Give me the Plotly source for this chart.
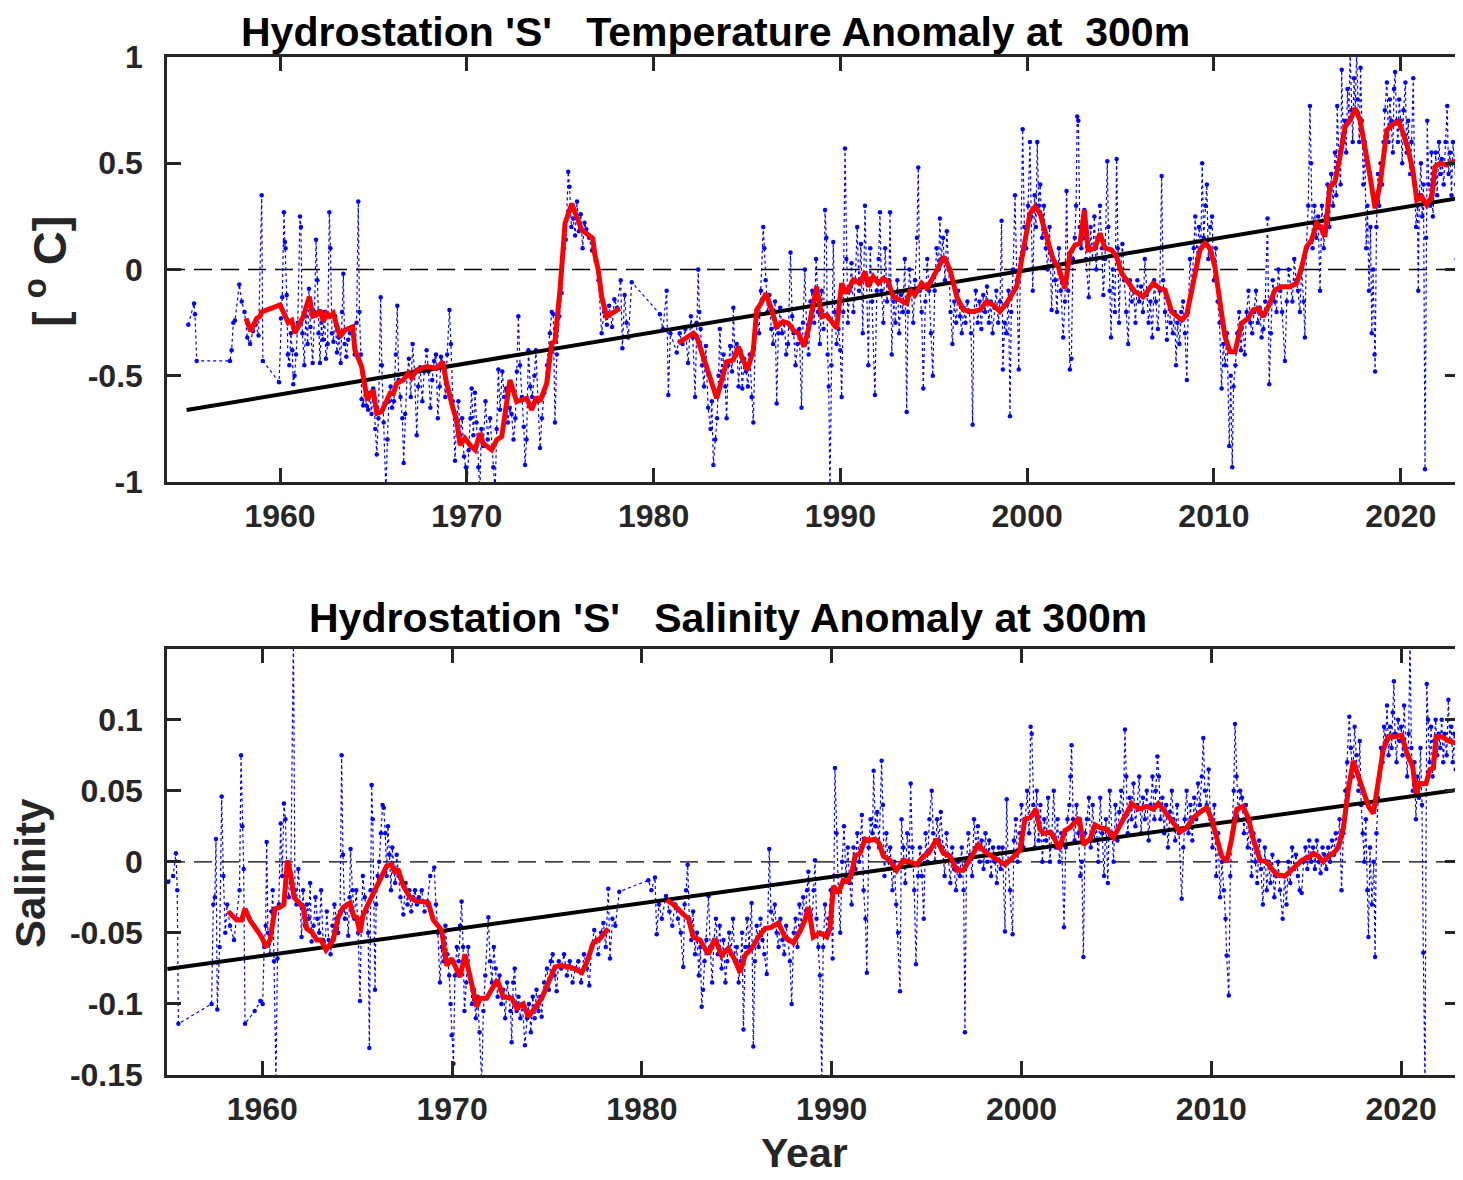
import plotly.graph_objects as go

# ---------------- Temperature anomaly at 300 m (deg C) ----------------
# individual casts (year, anomaly)
temp_obs = [
    (1955.09, -0.26), (1955.40, -0.16), (1955.45, -0.21), (1955.54, -0.43), (1957.32, -0.43),
    (1957.41, -0.38), (1957.50, -0.25), (1957.59, -0.24), (1957.82, -0.07), (1957.95, -0.15),
    (1958.10, -0.20), (1958.25, -0.32), (1958.40, -0.35), (1958.55, -0.29), (1958.70, -0.26),
    (1958.85, -0.31), (1959.02, 0.35), (1959.08, -0.43), (1959.95, -0.53), (1960.05, -0.23),
    (1960.12, -0.13), (1960.21, 0.27), (1960.26, 0.13), (1960.30, 0.10), (1960.36, -0.12),
    (1960.42, -0.40), (1960.50, -0.45), (1960.58, -0.30), (1960.66, -0.38), (1960.71, -0.54),
    (1960.78, -0.50), (1960.86, -0.40), (1960.95, -0.25), (1961.07, 0.25), (1961.12, 0.20),
    (1961.20, -0.30), (1961.30, -0.45), (1961.38, -0.22), (1961.48, -0.35), (1961.55, -0.09),
    (1961.63, -0.27), (1961.75, -0.44), (1961.85, -0.20), (1961.93, 0.14), (1962.00, -0.05),
    (1962.06, -0.30), (1962.14, -0.44), (1962.22, -0.25), (1962.30, -0.33), (1962.38, -0.20),
    (1962.46, -0.42), (1962.55, -0.35), (1962.64, 0.27), (1962.70, 0.10), (1962.78, -0.30),
    (1962.86, -0.34), (1962.95, -0.22), (1963.05, -0.39), (1963.15, -0.32), (1963.25, -0.44),
    (1963.32, -0.20), (1963.39, -0.02), (1963.46, -0.35), (1963.55, -0.41), (1963.65, -0.33),
    (1963.75, -0.30), (1963.85, -0.27), (1964.00, -0.40), (1964.10, -0.25), (1964.19, 0.32),
    (1964.25, -0.20), (1964.33, -0.40), (1964.37, -0.61), (1964.45, -0.64), (1964.55, -0.55),
    (1964.62, -0.64), (1964.72, -0.66), (1964.82, -0.58), (1964.90, -0.68), (1964.99, -0.56),
    (1965.10, -0.75), (1965.18, -0.87), (1965.27, -0.70), (1965.39, -0.13), (1965.45, -0.45),
    (1965.55, -0.72), (1965.67, -1.05), (1965.75, -0.80), (1965.83, -0.62), (1965.92, -0.55),
    (1966.00, -0.65), (1966.10, -0.62), (1966.20, -0.40), (1966.28, -0.17), (1966.35, -0.52),
    (1966.45, -0.60), (1966.55, -0.70), (1966.62, -0.91), (1966.70, -0.68), (1966.80, -0.50),
    (1966.90, -0.42), (1967.00, -0.60), (1967.10, -0.35), (1967.20, -0.48), (1967.32, -0.78),
    (1967.40, -0.55), (1967.50, -0.46), (1967.62, -0.62), (1967.72, -0.48), (1967.85, -0.38),
    (1967.95, -0.48), (1968.05, -0.65), (1968.15, -0.52), (1968.25, -0.43), (1968.35, -0.40),
    (1968.45, -0.70), (1968.55, -0.55), (1968.62, -0.41), (1968.72, -0.44), (1968.85, -0.60),
    (1968.95, -0.40), (1969.07, -0.19), (1969.15, -0.35), (1969.25, -0.62), (1969.37, -0.90),
    (1969.45, -0.72), (1969.55, -0.62), (1969.65, -0.78), (1969.75, -0.70), (1969.85, -0.88),
    (1969.95, -0.93), (1970.00, -1.05), (1970.10, -0.85), (1970.20, -0.70), (1970.26, -0.56),
    (1970.35, -0.78), (1970.44, -0.58), (1970.52, -0.72), (1970.62, -0.93), (1970.70, -1.05),
    (1970.78, -0.75), (1970.88, -0.83), (1971.00, -0.62), (1971.12, -0.80), (1971.25, -0.70),
    (1971.42, -0.93), (1971.52, -1.05), (1971.60, -0.75), (1971.69, -0.47), (1971.78, -0.66),
    (1971.90, -0.48), (1972.00, -0.60), (1972.10, -0.56), (1972.20, -0.72), (1972.30, -0.65),
    (1972.40, -0.68), (1972.50, -0.80), (1972.60, -0.70), (1972.68, -0.48), (1972.76, -0.22),
    (1972.85, -0.45), (1972.95, -0.60), (1973.05, -0.74), (1973.12, -0.92), (1973.20, -0.80),
    (1973.30, -0.38), (1973.40, -0.55), (1973.50, -0.60), (1973.62, -0.50), (1973.70, -0.38),
    (1973.82, -0.62), (1973.92, -0.84), (1974.02, -0.70), (1974.15, -0.58), (1974.30, -0.45),
    (1974.45, -0.30), (1974.55, -0.20), (1974.63, -0.21), (1974.72, -0.72), (1974.82, -0.40),
    (1974.95, -0.22), (1975.08, -0.11), (1975.20, 0.10), (1975.30, 0.14), (1975.43, 0.46),
    (1975.50, 0.39), (1975.60, 0.20), (1975.70, 0.24), (1975.80, 0.16), (1975.90, 0.32),
    (1976.00, 0.18), (1976.10, 0.26), (1976.20, 0.10), (1976.30, 0.22), (1976.40, 0.19),
    (1976.55, 0.15), (1976.70, 0.09), (1976.90, 0.04), (1977.05, -0.05), (1977.22, -0.30),
    (1977.35, -0.20), (1977.50, -0.26), (1977.62, -0.17), (1977.78, -0.27), (1977.90, -0.14),
    (1978.05, -0.18), (1978.24, -0.05), (1978.33, -0.37), (1978.45, -0.12), (1978.55, -0.25),
    (1978.65, -0.32), (1978.83, -0.06), (1980.34, -0.21), (1980.50, -0.28), (1980.70, -0.10),
    (1980.79, -0.59), (1980.90, -0.30), (1981.24, -0.39), (1981.40, -0.30), (1981.55, -0.35),
    (1981.70, -0.28), (1981.85, -0.44), (1982.00, -0.22), (1982.10, -0.32), (1982.22, -0.60),
    (1982.30, -0.25), (1982.39, 0.00), (1982.45, -0.20), (1982.52, -0.28), (1982.60, -0.45),
    (1982.70, -0.55), (1982.80, -0.36), (1982.92, -0.65), (1983.05, -0.75), (1983.12, -0.62),
    (1983.20, -0.92), (1983.30, -0.80), (1983.40, -0.70), (1983.48, -0.50), (1983.55, -0.28),
    (1983.65, -0.48), (1983.75, -0.40), (1983.84, -0.55), (1983.91, -0.70), (1984.00, -0.45),
    (1984.10, -0.36), (1984.20, -0.48), (1984.27, -0.18), (1984.35, -0.40), (1984.45, -0.35),
    (1984.55, -0.55), (1984.65, -0.38), (1984.75, -0.56), (1984.85, -0.42), (1984.95, -0.48),
    (1985.05, -0.55), (1985.15, -0.40), (1985.25, -0.60), (1985.34, -0.72), (1985.45, -0.30),
    (1985.55, -0.22), (1985.65, -0.30), (1985.75, -0.10), (1985.87, 0.20), (1985.93, 0.10),
    (1986.00, -0.05), (1986.10, -0.20), (1986.20, -0.12), (1986.30, -0.28), (1986.40, -0.35),
    (1986.50, -0.15), (1986.59, -0.63), (1986.68, -0.30), (1986.78, -0.18), (1986.88, -0.30),
    (1987.00, -0.25), (1987.10, -0.40), (1987.20, -0.35), (1987.33, 0.08), (1987.42, -0.22),
    (1987.50, -0.30), (1987.60, -0.45), (1987.70, -0.35), (1987.80, -0.28), (1987.92, -0.65),
    (1988.00, -0.25), (1988.10, 0.00), (1988.20, -0.30), (1988.30, -0.40), (1988.40, -0.15),
    (1988.50, -0.10), (1988.60, -0.25), (1988.70, 0.05), (1988.80, -0.20), (1988.90, -0.35),
    (1989.00, -0.10), (1989.10, -0.28), (1989.18, 0.28), (1989.25, 0.15), (1989.32, -0.40),
    (1989.38, -0.55), (1989.44, -1.05), (1989.52, -0.45), (1989.62, 0.13), (1989.70, -0.20),
    (1989.80, -0.35), (1989.90, -0.28), (1990.00, -0.38), (1990.07, -0.60), (1990.15, -0.20),
    (1990.25, 0.57), (1990.32, 0.05), (1990.40, -0.25), (1990.50, -0.10), (1990.60, 0.03),
    (1990.70, -0.20), (1990.80, -0.05), (1990.90, 0.20), (1991.00, -0.10), (1991.10, 0.12),
    (1991.20, -0.30), (1991.32, 0.30), (1991.40, -0.05), (1991.50, -0.45), (1991.60, 0.10),
    (1991.70, -0.15), (1991.85, -0.59), (1991.95, -0.10), (1992.05, 0.05), (1992.12, 0.27),
    (1992.20, -0.10), (1992.30, -0.25), (1992.40, 0.10), (1992.50, -0.15), (1992.60, -0.05),
    (1992.66, 0.27), (1992.75, -0.40), (1992.85, -0.15), (1992.95, -0.25), (1993.05, -0.05),
    (1993.15, -0.30), (1993.25, -0.12), (1993.35, -0.20), (1993.45, 0.05), (1993.55, -0.67),
    (1993.62, -0.20), (1993.70, 0.00), (1993.80, -0.10), (1993.90, -0.25), (1994.00, -0.05),
    (1994.10, 0.15), (1994.17, 0.48), (1994.25, -0.10), (1994.35, -0.20), (1994.44, -0.56),
    (1994.55, -0.15), (1994.65, 0.05), (1994.75, -0.10), (1994.85, -0.30), (1994.95, -0.50),
    (1995.05, -0.10), (1995.15, 0.10), (1995.25, 0.00), (1995.33, 0.24), (1995.40, 0.05),
    (1995.50, 0.15), (1995.60, -0.05), (1995.70, 0.18), (1995.80, 0.00), (1995.90, -0.20),
    (1996.00, -0.35), (1996.10, -0.15), (1996.20, -0.25), (1996.30, -0.10), (1996.40, -0.22),
    (1996.50, -0.30), (1996.60, -0.18), (1996.70, -0.25), (1996.80, -0.15), (1996.90, -0.20),
    (1997.00, -0.30), (1997.08, -0.73), (1997.15, -0.20), (1997.25, -0.10), (1997.35, -0.25),
    (1997.45, -0.15), (1997.55, -0.28), (1997.65, -0.12), (1997.75, -0.20), (1997.85, -0.08),
    (1997.95, -0.25), (1998.05, -0.15), (1998.15, -0.30), (1998.25, -0.18), (1998.35, -0.10),
    (1998.45, -0.25), (1998.55, -0.15), (1998.63, 0.23), (1998.70, -0.47), (1998.80, -0.25),
    (1998.90, -0.30), (1999.00, -0.10), (1999.08, -0.69), (1999.15, -0.20), (1999.25, 0.00),
    (1999.35, 0.35), (1999.45, -0.05), (1999.55, -0.47), (1999.65, 0.05), (1999.76, 0.66),
    (1999.85, 0.20), (1999.95, 0.10), (2000.05, 0.30), (2000.15, 0.60), (2000.22, 0.25),
    (2000.30, -0.10), (2000.40, 0.35), (2000.47, 0.20), (2000.54, 0.60), (2000.62, 0.30),
    (2000.70, 0.40), (2000.80, 0.15), (2000.90, 0.30), (2001.00, 0.10), (2001.10, 0.00),
    (2001.20, 0.20), (2001.31, -0.19), (2001.40, 0.05), (2001.50, -0.05), (2001.60, -0.20),
    (2001.70, 0.10), (2001.80, -0.10), (2001.93, -0.32), (2002.02, -0.15), (2002.11, 0.37),
    (2002.20, -0.10), (2002.29, -0.47), (2002.37, -0.42), (2002.45, 0.05), (2002.55, 0.15),
    (2002.62, 0.30), (2002.68, 0.72), (2002.74, 0.70), (2002.82, 0.20), (2002.90, 0.10),
    (2003.00, 0.15), (2003.06, 0.28), (2003.15, 0.05), (2003.30, -0.13), (2003.40, 0.20),
    (2003.50, 0.05), (2003.60, 0.25), (2003.70, 0.00), (2003.80, 0.15), (2003.90, 0.30),
    (2004.00, 0.10), (2004.08, -0.12), (2004.17, 0.05), (2004.29, 0.51), (2004.35, 0.20),
    (2004.42, -0.10), (2004.49, -0.32), (2004.58, 0.00), (2004.70, -0.20), (2004.79, 0.52),
    (2004.85, 0.10), (2004.92, -0.25), (2005.00, 0.00), (2005.10, 0.12), (2005.20, -0.05),
    (2005.30, -0.20), (2005.41, -0.35), (2005.50, -0.05), (2005.60, -0.15), (2005.70, -0.10),
    (2005.80, -0.25), (2005.90, -0.05), (2006.00, -0.15), (2006.10, -0.08), (2006.20, -0.20),
    (2006.30, 0.05), (2006.40, -0.12), (2006.50, -0.25), (2006.60, -0.15), (2006.70, -0.32),
    (2006.80, -0.05), (2006.90, -0.15), (2007.00, -0.28), (2007.10, -0.10), (2007.20, 0.44),
    (2007.28, -0.05), (2007.38, -0.20), (2007.48, -0.33), (2007.58, -0.15), (2007.68, -0.25),
    (2007.80, -0.30), (2007.90, -0.20), (2007.97, -0.45), (2008.05, -0.25), (2008.15, -0.35),
    (2008.25, -0.20), (2008.35, -0.15), (2008.45, -0.30), (2008.55, -0.52), (2008.62, -0.20),
    (2008.72, 0.05), (2008.82, -0.10), (2008.92, 0.10), (2009.00, 0.25), (2009.10, 0.05),
    (2009.20, 0.20), (2009.30, 0.10), (2009.37, 0.50), (2009.45, 0.15), (2009.55, 0.30),
    (2009.62, 0.40), (2009.70, 0.05), (2009.80, 0.20), (2009.90, 0.25), (2010.00, -0.05),
    (2010.10, 0.10), (2010.20, -0.15), (2010.30, -0.25), (2010.41, -0.56), (2010.50, -0.35),
    (2010.60, -0.45), (2010.70, -0.30), (2010.82, -0.83), (2010.90, -0.50), (2010.98, -0.93),
    (2011.05, -0.55), (2011.15, -0.45), (2011.25, -0.30), (2011.35, -0.20), (2011.45, -0.38),
    (2011.55, -0.25), (2011.65, -0.40), (2011.75, -0.20), (2011.85, -0.10), (2011.95, -0.25),
    (2012.05, -0.30), (2012.15, -0.20), (2012.25, -0.10), (2012.35, -0.25), (2012.45, -0.18),
    (2012.55, -0.32), (2012.65, -0.28), (2012.75, -0.15), (2012.87, 0.24), (2012.96, -0.54),
    (2013.05, -0.30), (2013.15, -0.05), (2013.25, -0.15), (2013.35, -0.20), (2013.45, 0.00),
    (2013.55, -0.10), (2013.65, -0.20), (2013.80, -0.43), (2013.90, -0.15), (2014.00, 0.00),
    (2014.10, -0.08), (2014.20, -0.15), (2014.30, 0.05), (2014.40, -0.05), (2014.50, -0.10),
    (2014.60, -0.20), (2014.70, 0.00), (2014.80, -0.15), (2014.87, -0.32), (2014.95, 0.10),
    (2015.05, 0.30), (2015.14, 0.77), (2015.20, 0.50), (2015.28, 0.10), (2015.38, 0.30),
    (2015.48, 0.15), (2015.58, 0.25), (2015.68, -0.10), (2015.78, 0.30), (2015.88, 0.10),
    (2015.98, 0.25), (2016.08, 0.40), (2016.18, 0.20), (2016.28, 0.45), (2016.38, 0.30),
    (2016.48, 0.55), (2016.55, 0.35), (2016.60, 0.77), (2016.70, 0.50), (2016.78, 0.40),
    (2016.84, 0.94), (2016.92, 0.60), (2017.00, 0.70), (2017.08, 0.55), (2017.15, 0.85),
    (2017.22, 0.70), (2017.29, 1.02), (2017.36, 0.75), (2017.43, 0.60), (2017.50, 0.90),
    (2017.57, 0.75), (2017.64, 1.02), (2017.70, 0.80), (2017.78, 0.60), (2017.85, 0.95),
    (2017.92, 0.70), (2018.00, 0.40), (2018.08, 0.60), (2018.15, 0.10), (2018.22, 0.30),
    (2018.30, -0.10), (2018.38, 0.20), (2018.45, -0.30), (2018.52, 0.00), (2018.60, -0.40),
    (2018.63, -0.48), (2018.70, 0.20), (2018.78, 0.45), (2018.85, 0.30), (2018.92, 0.50),
    (2019.00, 0.40), (2019.08, 0.60), (2019.15, 0.75), (2019.26, 0.88), (2019.35, 0.60),
    (2019.42, 0.80), (2019.50, 0.70), (2019.58, 0.55), (2019.64, 0.85), (2019.70, 0.93),
    (2019.78, 0.70), (2019.85, 0.60), (2019.92, 0.80), (2020.00, 0.70), (2020.08, 0.50),
    (2020.15, 0.75), (2020.25, 0.88), (2020.32, 0.55), (2020.40, 0.70), (2020.50, 0.45),
    (2020.58, 0.60), (2020.67, 0.90), (2020.75, 0.40), (2020.82, 0.20), (2020.90, 0.30),
    (2020.94, -0.10), (2021.00, 0.35), (2021.08, 0.50), (2021.15, 0.25), (2021.22, 0.40),
    (2021.30, -0.94), (2021.36, 0.15), (2021.42, 0.70), (2021.50, 0.40), (2021.58, 0.30),
    (2021.65, 0.55), (2021.72, 0.25), (2021.80, 0.40), (2021.88, 0.55), (2021.95, 0.35),
    (2022.05, 0.60), (2022.12, 0.45), (2022.20, 0.52), (2022.30, 0.40), (2022.40, 0.60),
    (2022.49, 0.77), (2022.56, 0.45), (2022.64, 0.55), (2022.72, 0.35), (2022.80, 0.60),
    (2022.88, 0.50), (2022.96, 0.40), (2023.00, 0.05),
]

# running mean (None marks the data gap)
temp_mean = [
    (1958.18, -0.23), (1958.43, -0.29), (1958.75, -0.23), (1958.93, -0.22), (1959.02, -0.20),
    (1960.00, -0.167), (1960.44, -0.25), (1960.63, -0.24), (1960.80, -0.30), (1961.25, -0.22),
    (1961.57, -0.128), (1961.75, -0.22), (1961.96, -0.214), (1962.14, -0.19), (1962.32, -0.245),
    (1962.50, -0.206), (1962.68, -0.22), (1962.85, -0.206), (1963.21, -0.316), (1963.48, -0.285),
    (1963.89, -0.27), (1964.01, -0.379), (1964.37, -0.457), (1964.67, -0.614), (1964.99, -0.567),
    (1965.18, -0.677), (1965.44, -0.669), (1965.89, -0.583), (1966.07, -0.583), (1966.25, -0.535),
    (1966.60, -0.52), (1966.87, -0.488), (1967.05, -0.51), (1967.32, -0.473), (1967.85, -0.457),
    (1968.39, -0.465), (1968.71, -0.434), (1968.92, -0.535), (1969.28, -0.66), (1969.46, -0.708),
    (1969.64, -0.826), (1969.90, -0.794), (1970.17, -0.826), (1970.44, -0.849), (1970.71, -0.771),
    (1970.88, -0.818), (1971.33, -0.849), (1971.60, -0.802), (1971.87, -0.786), (1972.31, -0.52),
    (1972.67, -0.622), (1973.21, -0.606), (1973.47, -0.66), (1973.74, -0.60), (1973.92, -0.62),
    (1974.28, -0.536), (1974.54, -0.347), (1974.72, -0.34), (1974.99, -0.096), (1975.26, 0.217),
    (1975.62, 0.31), (1975.88, 0.256), (1976.15, 0.186), (1976.51, 0.162), (1976.74, 0.147),
    (1976.86, 0.068), (1977.04, -0.002), (1977.22, -0.128), (1977.49, -0.222), (1977.76, -0.206),
    (1978.20, -0.183),
    (None, None),
    (1981.32, -0.347), (1982.13, -0.30), (1982.31, -0.316), (1982.66, -0.41), (1983.38, -0.606),
    (1983.65, -0.52), (1983.91, -0.434), (1984.27, -0.426), (1984.54, -0.363), (1984.72, -0.41),
    (1985.02, -0.473), (1985.34, -0.379), (1985.52, -0.19), (1985.70, -0.167), (1986.02, -0.112),
    (1986.32, -0.19), (1986.59, -0.269), (1986.94, -0.245), (1987.21, -0.253), (1987.48, -0.285),
    (1987.75, -0.30), (1988.05, -0.363), (1988.28, -0.285), (1988.73, -0.081), (1989.00, -0.222),
    (1989.27, -0.214), (1989.59, -0.253), (1989.80, -0.277), (1990.07, -0.065), (1990.34, -0.112),
    (1990.69, -0.049), (1991.05, -0.065), (1991.32, -0.010), (1991.49, -0.081), (1991.76, -0.034),
    (1992.03, -0.065), (1992.30, -0.042), (1992.56, -0.057), (1992.83, -0.128), (1993.19, -0.143),
    (1993.55, -0.159), (1993.73, -0.096), (1993.99, -0.12), (1994.35, -0.065), (1994.62, -0.088),
    (1994.89, -0.049), (1995.24, 0.013), (1995.55, 0.06), (1995.87, -0.002), (1996.23, -0.128),
    (1996.58, -0.19), (1997.03, -0.198), (1997.47, -0.19), (1997.83, -0.151), (1998.19, -0.167),
    (1998.54, -0.198), (1998.90, -0.159), (1999.17, -0.12), (1999.44, -0.08), (1999.61, 0.0),
    (1999.79, 0.092), (2000.15, 0.264), (2000.42, 0.296), (2000.69, 0.264), (2001.04, 0.154),
    (2001.40, 0.045), (2001.67, 0.013), (2002.02, -0.089), (2002.29, 0.076), (2002.56, 0.115),
    (2002.83, 0.123), (2003.06, 0.28), (2003.27, 0.092), (2003.63, 0.10), (2003.90, 0.17),
    (2004.17, 0.10), (2004.52, 0.092), (2004.79, 0.06), (2005.06, -0.018), (2005.41, -0.065),
    (2005.77, -0.104), (2006.22, -0.128), (2006.75, -0.065), (2007.11, -0.089), (2007.38, -0.096),
    (2007.73, -0.198), (2008.27, -0.238), (2008.54, -0.214), (2008.89, -0.065), (2009.25, 0.092),
    (2009.52, 0.123), (2009.79, 0.10), (2010.05, 0.013), (2010.32, -0.159), (2010.59, -0.316),
    (2010.86, -0.387), (2011.13, -0.387), (2011.48, -0.253), (2011.84, -0.23), (2012.10, -0.19),
    (2012.37, -0.183), (2012.64, -0.222), (2012.91, -0.175), (2013.27, -0.096), (2013.62, -0.081),
    (2014.07, -0.081), (2014.43, -0.065), (2014.70, 0.013), (2014.96, 0.107), (2015.23, 0.139),
    (2015.50, 0.217), (2015.71, 0.20), (2015.94, 0.154), (2016.21, 0.39), (2016.48, 0.413),
    (2016.75, 0.531), (2017.02, 0.672), (2017.29, 0.703), (2017.56, 0.759), (2017.83, 0.70),
    (2018.09, 0.578), (2018.36, 0.437), (2018.63, 0.288), (2018.90, 0.406), (2019.26, 0.656),
    (2019.53, 0.68), (2019.88, 0.696), (2020.14, 0.64), (2020.41, 0.562), (2020.67, 0.453),
    (2020.86, 0.327), (2021.12, 0.343), (2021.39, 0.304), (2021.66, 0.343), (2021.84, 0.484),
    (2022.11, 0.50), (2022.46, 0.492), (2022.82, 0.508), (2023.09, 0.508),
]

temp_trend_years = [1955.0, 2023.12]
temp_trend_vals = [-0.661, 0.336]

# ---------------- Salinity anomaly at 300 m ----------------
sal_obs = [
    (1955.05, -0.014), (1955.30, -0.010), (1955.45, 0.006), (1955.52, -0.020), (1955.58, -0.114),
    (1957.33, -0.100), (1957.42, -0.030), (1957.50, -0.025), (1957.56, 0.016), (1957.63, -0.104),
    (1957.75, -0.060), (1957.86, 0.046), (1957.95, -0.010), (1958.05, -0.050), (1958.15, -0.030),
    (1958.30, -0.045), (1958.51, -0.055), (1958.65, -0.040), (1958.80, -0.020), (1958.88, 0.075),
    (1958.95, 0.025), (1959.02, -0.005), (1959.09, -0.114), (1959.60, -0.105), (1959.90, -0.098),
    (1960.02, -0.100), (1960.10, -0.060), (1960.18, -0.045), (1960.23, 0.014), (1960.30, -0.050),
    (1960.40, -0.065), (1960.48, -0.035), (1960.55, -0.020), (1960.62, -0.070), (1960.72, -0.155),
    (1960.80, -0.068), (1960.88, -0.030), (1960.97, 0.027), (1961.05, -0.010), (1961.14, 0.041),
    (1961.22, 0.030), (1961.30, -0.010), (1961.40, -0.025), (1961.50, -0.015), (1961.64, 0.160),
    (1961.72, -0.020), (1961.80, -0.030), (1961.90, -0.005), (1962.00, -0.030), (1962.07, -0.053),
    (1962.15, -0.020), (1962.25, -0.045), (1962.35, -0.030), (1962.45, -0.040), (1962.52, -0.015),
    (1962.60, -0.056), (1962.70, -0.045), (1962.80, -0.025), (1962.90, -0.040), (1963.00, -0.050),
    (1963.10, -0.020), (1963.20, -0.055), (1963.30, -0.060), (1963.40, -0.035), (1963.50, -0.055),
    (1963.60, -0.065), (1963.70, -0.045), (1963.80, -0.030), (1963.90, -0.040), (1964.00, -0.050),
    (1964.10, -0.035), (1964.18, 0.075), (1964.25, 0.005), (1964.35, -0.040), (1964.45, -0.030),
    (1964.53, -0.052), (1964.60, -0.025), (1964.65, 0.009), (1964.75, -0.020), (1964.85, -0.040),
    (1964.95, -0.020), (1965.05, -0.050), (1965.15, -0.098), (1965.22, -0.040), (1965.30, -0.010),
    (1965.40, -0.025), (1965.50, -0.035), (1965.58, -0.050), (1965.64, -0.131), (1965.70, -0.020),
    (1965.76, 0.054), (1965.82, 0.030), (1965.88, -0.020), (1965.94, -0.090), (1966.00, -0.030),
    (1966.08, -0.010), (1966.16, 0.000), (1966.25, 0.020), (1966.34, 0.040), (1966.40, 0.038),
    (1966.48, 0.020), (1966.55, -0.010), (1966.62, 0.025), (1966.70, 0.005), (1966.78, -0.020),
    (1966.85, 0.010), (1966.92, -0.005), (1967.00, -0.015), (1967.08, 0.005), (1967.18, -0.010),
    (1967.28, -0.025), (1967.43, -0.037), (1967.55, -0.015), (1967.65, -0.030), (1967.75, -0.020),
    (1967.85, -0.035), (1967.95, -0.025), (1968.05, -0.020), (1968.15, -0.030), (1968.25, -0.025),
    (1968.40, -0.020), (1968.55, -0.035), (1968.70, -0.028), (1968.85, -0.010), (1969.06, -0.004),
    (1969.15, -0.030), (1969.25, -0.050), (1969.36, -0.085), (1969.45, -0.060), (1969.55, -0.070),
    (1969.65, -0.045), (1969.75, -0.065), (1969.85, -0.080), (1969.92, -0.100), (1969.98, -0.122),
    (1970.07, -0.142), (1970.15, -0.080), (1970.25, -0.060), (1970.35, -0.070), (1970.42, -0.045),
    (1970.50, -0.028), (1970.58, -0.060), (1970.65, -0.105), (1970.75, -0.085), (1970.85, -0.060),
    (1970.95, -0.080), (1971.05, -0.100), (1971.15, -0.090), (1971.25, -0.110), (1971.35, -0.095),
    (1971.45, -0.120), (1971.56, -0.155), (1971.65, -0.105), (1971.75, -0.080), (1971.91, -0.039),
    (1972.00, -0.070), (1972.10, -0.085), (1972.20, -0.060), (1972.30, -0.075), (1972.40, -0.095),
    (1972.50, -0.080), (1972.60, -0.100), (1972.70, -0.090), (1972.80, -0.110), (1972.90, -0.085),
    (1973.00, -0.095), (1973.08, -0.105), (1973.14, -0.127), (1973.22, -0.085), (1973.30, -0.075),
    (1973.40, -0.105), (1973.50, -0.095), (1973.60, -0.110), (1973.70, -0.100), (1973.84, -0.129),
    (1973.95, -0.110), (1974.05, -0.100), (1974.15, -0.120), (1974.25, -0.095), (1974.35, -0.110),
    (1974.45, -0.090), (1974.55, -0.105), (1974.65, -0.095), (1974.72, -0.109), (1974.85, -0.085),
    (1975.00, -0.075), (1975.10, -0.090), (1975.20, -0.070), (1975.30, -0.065), (1975.40, -0.080),
    (1975.51, -0.091), (1975.62, -0.070), (1975.75, -0.075), (1975.90, -0.065), (1976.05, -0.080),
    (1976.20, -0.070), (1976.35, -0.085), (1976.50, -0.075), (1976.65, -0.070), (1976.80, -0.085),
    (1976.95, -0.065), (1977.10, -0.075), (1977.23, -0.087), (1977.35, -0.060), (1977.49, -0.048),
    (1977.60, -0.055), (1977.70, -0.065), (1977.85, -0.050), (1977.97, -0.043), (1978.10, -0.060),
    (1978.23, -0.019), (1978.32, -0.068), (1978.45, -0.040), (1978.60, -0.045), (1978.81, -0.021),
    (1980.34, -0.013), (1980.50, -0.020), (1980.69, -0.011), (1980.78, -0.051), (1980.90, -0.030),
    (1981.05, -0.040), (1981.27, -0.024), (1981.45, -0.035), (1981.60, -0.045), (1981.75, -0.030),
    (1981.90, -0.040), (1982.05, -0.050), (1982.18, -0.074), (1982.25, -0.030), (1982.33, -0.020),
    (1982.41, -0.002), (1982.50, -0.040), (1982.60, -0.055), (1982.70, -0.035), (1982.80, -0.065),
    (1982.90, -0.050), (1983.00, -0.080), (1983.08, -0.060), (1983.15, -0.102), (1983.22, -0.090),
    (1983.30, -0.070), (1983.40, -0.055), (1983.51, -0.024), (1983.60, -0.060), (1983.70, -0.085),
    (1983.80, -0.055), (1983.90, -0.040), (1984.00, -0.065), (1984.10, -0.045), (1984.20, -0.075),
    (1984.30, -0.055), (1984.40, -0.085), (1984.50, -0.070), (1984.60, -0.050), (1984.70, -0.065),
    (1984.80, -0.040), (1984.90, -0.070), (1985.00, -0.060), (1985.10, -0.085), (1985.20, -0.070),
    (1985.28, -0.050), (1985.35, -0.118), (1985.45, -0.060), (1985.55, -0.040), (1985.65, -0.060),
    (1985.78, -0.029), (1985.87, -0.130), (1985.95, -0.070), (1986.05, -0.045), (1986.15, -0.060),
    (1986.25, -0.040), (1986.35, -0.055), (1986.45, -0.065), (1986.58, -0.079), (1986.71, 0.009),
    (1986.80, -0.035), (1986.90, -0.045), (1987.00, -0.030), (1987.10, -0.050), (1987.20, -0.060),
    (1987.30, -0.040), (1987.40, -0.055), (1987.50, -0.065), (1987.60, -0.045), (1987.70, -0.055),
    (1987.80, -0.070), (1987.89, -0.100), (1988.00, -0.050), (1988.10, -0.040), (1988.20, -0.060),
    (1988.30, -0.030), (1988.40, -0.045), (1988.50, -0.025), (1988.60, -0.040), (1988.70, -0.020),
    (1988.77, -0.007), (1988.85, -0.035), (1988.95, -0.045), (1989.05, -0.020), (1989.12, 0.001),
    (1989.20, -0.040), (1989.30, -0.060), (1989.38, -0.080), (1989.48, -0.155), (1989.55, -0.060),
    (1989.65, -0.030), (1989.75, -0.050), (1989.85, -0.040), (1989.95, -0.020), (1990.05, -0.068),
    (1990.12, -0.010), (1990.17, 0.066), (1990.25, 0.020), (1990.35, -0.020), (1990.45, -0.050),
    (1990.55, 0.000), (1990.65, 0.025), (1990.75, -0.010), (1990.85, 0.010), (1990.95, -0.015),
    (1991.05, -0.030), (1991.15, 0.010), (1991.25, -0.005), (1991.35, 0.020), (1991.45, 0.000),
    (1991.59, 0.033), (1991.68, -0.020), (1991.78, -0.040), (1991.85, -0.078), (1991.95, 0.010),
    (1992.05, 0.030), (1992.15, 0.020), (1992.21, 0.064), (1992.30, 0.025), (1992.40, 0.035),
    (1992.50, 0.010), (1992.63, 0.071), (1992.70, 0.040), (1992.78, -0.010), (1992.88, 0.020),
    (1992.98, -0.005), (1993.08, 0.010), (1993.20, -0.020), (1993.30, 0.000), (1993.40, -0.030),
    (1993.50, -0.050), (1993.60, -0.091), (1993.68, 0.030), (1993.78, 0.010), (1993.88, -0.015),
    (1993.98, 0.020), (1994.08, 0.000), (1994.16, 0.055), (1994.25, 0.010), (1994.35, -0.020),
    (1994.44, -0.072), (1994.55, -0.010), (1994.65, 0.010), (1994.75, -0.010), (1994.85, -0.040),
    (1994.95, 0.020), (1995.05, 0.000), (1995.15, 0.030), (1995.27, 0.050), (1995.35, 0.020),
    (1995.45, 0.000), (1995.55, 0.030), (1995.65, 0.015), (1995.75, 0.035), (1995.85, 0.010),
    (1995.95, -0.010), (1996.05, 0.020), (1996.15, 0.005), (1996.25, -0.015), (1996.35, 0.010),
    (1996.45, -0.005), (1996.55, -0.020), (1996.65, 0.000), (1996.75, -0.010), (1996.85, 0.010),
    (1996.95, -0.020), (1997.02, -0.120), (1997.10, 0.000), (1997.20, 0.020), (1997.30, 0.005),
    (1997.40, -0.010), (1997.50, 0.030), (1997.60, 0.010), (1997.70, 0.025), (1997.80, 0.000),
    (1997.90, 0.015), (1998.00, -0.005), (1998.10, 0.020), (1998.20, 0.000), (1998.30, 0.015),
    (1998.40, -0.010), (1998.50, 0.010), (1998.60, 0.000), (1998.70, -0.015), (1998.80, 0.010),
    (1998.90, -0.005), (1999.00, 0.010), (1999.13, -0.049), (1999.22, 0.044), (1999.30, 0.000),
    (1999.40, -0.020), (1999.53, -0.051), (1999.60, 0.015), (1999.70, 0.030), (1999.80, 0.000),
    (1999.90, 0.020), (2000.00, 0.040), (2000.10, 0.010), (2000.20, 0.030), (2000.30, 0.050),
    (2000.40, 0.020), (2000.48, 0.095), (2000.54, 0.090), (2000.62, 0.040), (2000.70, 0.010),
    (2000.80, 0.050), (2000.90, 0.015), (2001.00, 0.040), (2001.10, 0.000), (2001.20, 0.030),
    (2001.30, 0.015), (2001.40, 0.045), (2001.50, 0.000), (2001.60, 0.020), (2001.70, 0.050),
    (2001.80, 0.010), (2001.90, 0.030), (2002.00, 0.000), (2002.10, 0.020), (2002.24, -0.046),
    (2002.33, 0.010), (2002.42, 0.030), (2002.52, 0.040), (2002.58, 0.060), (2002.64, 0.082),
    (2002.72, 0.030), (2002.80, 0.015), (2002.90, 0.040), (2003.00, 0.020), (2003.10, -0.010),
    (2003.18, 0.000), (2003.26, -0.067), (2003.35, 0.020), (2003.45, 0.030), (2003.55, 0.045),
    (2003.65, 0.010), (2003.75, 0.040), (2003.85, 0.015), (2003.95, 0.025), (2004.05, 0.000),
    (2004.15, 0.045), (2004.25, 0.020), (2004.35, -0.010), (2004.45, 0.030), (2004.55, -0.015),
    (2004.65, 0.050), (2004.75, 0.020), (2004.85, 0.000), (2004.95, 0.040), (2005.05, 0.015),
    (2005.15, 0.035), (2005.25, 0.050), (2005.35, 0.030), (2005.45, 0.093), (2005.52, 0.060),
    (2005.60, 0.020), (2005.70, 0.045), (2005.80, 0.030), (2005.90, 0.055), (2006.00, 0.025),
    (2006.10, 0.040), (2006.20, 0.060), (2006.30, 0.020), (2006.40, 0.045), (2006.50, 0.030),
    (2006.60, 0.050), (2006.70, 0.015), (2006.80, 0.040), (2006.90, 0.060), (2007.00, 0.030),
    (2007.08, 0.050), (2007.16, 0.074), (2007.24, 0.060), (2007.32, 0.030), (2007.42, 0.045),
    (2007.52, 0.020), (2007.62, 0.040), (2007.72, 0.010), (2007.82, 0.035), (2007.92, 0.050),
    (2008.00, 0.030), (2008.10, 0.015), (2008.20, 0.040), (2008.30, 0.020), (2008.44, -0.026),
    (2008.52, 0.010), (2008.60, 0.030), (2008.70, 0.050), (2008.80, 0.020), (2008.90, 0.040),
    (2009.00, 0.015), (2009.10, 0.045), (2009.20, 0.030), (2009.30, 0.055), (2009.40, 0.040),
    (2009.50, 0.060), (2009.58, 0.087), (2009.66, 0.050), (2009.76, 0.040), (2009.86, 0.065),
    (2009.96, 0.030), (2010.06, 0.010), (2010.16, 0.040), (2010.26, -0.010), (2010.36, 0.020),
    (2010.46, -0.025), (2010.56, 0.000), (2010.66, -0.020), (2010.75, -0.040), (2010.81, -0.066),
    (2010.92, -0.094), (2011.00, -0.010), (2011.10, 0.020), (2011.18, 0.050), (2011.25, 0.097),
    (2011.33, 0.060), (2011.42, 0.030), (2011.52, 0.050), (2011.62, 0.045), (2011.72, 0.020),
    (2011.82, 0.040), (2011.92, 0.010), (2012.02, 0.030), (2012.12, -0.010), (2012.22, 0.020),
    (2012.32, 0.000), (2012.42, -0.015), (2012.52, 0.015), (2012.62, -0.005), (2012.72, -0.030),
    (2012.82, 0.010), (2012.92, -0.020), (2013.02, 0.000), (2013.12, -0.015), (2013.22, 0.005),
    (2013.32, -0.025), (2013.42, -0.010), (2013.52, 0.000), (2013.62, -0.020), (2013.76, -0.040),
    (2013.86, -0.010), (2013.96, -0.030), (2014.06, 0.000), (2014.16, -0.015), (2014.26, 0.010),
    (2014.36, -0.005), (2014.46, 0.005), (2014.56, -0.010), (2014.66, -0.020), (2014.76, -0.022),
    (2014.86, 0.000), (2014.96, 0.010), (2015.06, -0.005), (2015.16, 0.015), (2015.26, 0.000),
    (2015.36, 0.010), (2015.46, -0.005), (2015.56, 0.015), (2015.66, 0.000), (2015.76, -0.008),
    (2015.86, 0.010), (2015.96, 0.005), (2016.06, -0.005), (2016.16, 0.010), (2016.26, 0.000),
    (2016.36, 0.015), (2016.46, 0.005), (2016.56, 0.020), (2016.66, 0.010), (2016.76, 0.030),
    (2016.86, -0.020), (2016.96, 0.020), (2017.06, 0.050), (2017.16, 0.070), (2017.27, 0.102),
    (2017.35, 0.080), (2017.45, 0.060), (2017.55, 0.095), (2017.65, 0.075), (2017.75, 0.050),
    (2017.82, 0.085), (2017.90, 0.040), (2017.98, 0.020), (2018.06, 0.000), (2018.14, 0.030),
    (2018.22, -0.020), (2018.28, -0.053), (2018.36, 0.010), (2018.46, -0.030), (2018.56, 0.000),
    (2018.63, -0.067), (2018.70, 0.020), (2018.78, 0.045), (2018.86, 0.060), (2018.94, 0.080),
    (2019.02, 0.070), (2019.10, 0.095), (2019.18, 0.085), (2019.26, 0.110), (2019.34, 0.075),
    (2019.42, 0.095), (2019.50, 0.080), (2019.56, 0.105), (2019.62, 0.127), (2019.68, 0.090),
    (2019.76, 0.070), (2019.84, 0.100), (2019.92, 0.085), (2020.00, 0.095), (2020.08, 0.075),
    (2020.16, 0.110), (2020.24, 0.080), (2020.32, 0.060), (2020.40, 0.090), (2020.47, 0.160),
    (2020.54, 0.080), (2020.62, 0.050), (2020.70, 0.070), (2020.78, 0.030), (2020.86, 0.060),
    (2020.94, 0.045), (2021.02, 0.080), (2021.10, 0.040), (2021.17, -0.064), (2021.26, -0.160),
    (2021.35, 0.125), (2021.42, 0.100), (2021.50, 0.070), (2021.58, 0.095), (2021.66, 0.060),
    (2021.74, 0.085), (2021.82, 0.100), (2021.90, 0.075), (2021.98, 0.090), (2022.06, 0.080),
    (2022.14, 0.100), (2022.22, 0.070), (2022.30, 0.090), (2022.40, 0.075), (2022.49, 0.114),
    (2022.56, 0.085), (2022.64, 0.095), (2022.72, 0.070), (2022.80, 0.090), (2022.88, 0.065),
    (2022.96, 0.010), (2023.02, 0.080),
]

sal_mean = [
    (1958.21, -0.035), (1958.65, -0.041), (1958.91, -0.041), (1959.09, -0.033), (1959.35, -0.041),
    (1959.70, -0.048), (1959.97, -0.053), (1960.19, -0.060), (1960.41, -0.055), (1960.67, -0.033),
    (1960.93, -0.032), (1961.14, -0.030), (1961.32, 0.001), (1961.49, -0.008), (1961.67, -0.025),
    (1962.16, -0.032), (1962.34, -0.047), (1962.65, -0.050), (1962.87, -0.055), (1963.09, -0.055),
    (1963.36, -0.062), (1963.74, -0.055), (1964.00, -0.039), (1964.27, -0.032), (1964.62, -0.029),
    (1964.80, -0.038), (1964.97, -0.039), (1965.15, -0.050), (1965.30, -0.038), (1965.50, -0.032),
    (1965.85, -0.022), (1966.20, -0.013), (1966.55, -0.003), (1966.82, -0.002), (1966.99, -0.008),
    (1967.15, -0.005), (1967.43, -0.017), (1967.78, -0.025), (1968.13, -0.028), (1968.48, -0.028),
    (1968.75, -0.029), (1969.01, -0.041), (1969.45, -0.048), (1969.63, -0.065), (1969.72, -0.073),
    (1969.98, -0.068), (1970.24, -0.076), (1970.42, -0.081), (1970.68, -0.065), (1971.03, -0.086),
    (1971.30, -0.102), (1971.47, -0.096), (1971.82, -0.096), (1972.38, -0.083), (1972.70, -0.095),
    (1973.14, -0.096), (1973.40, -0.103), (1973.75, -0.100), (1974.02, -0.109), (1974.35, -0.103),
    (1974.72, -0.096), (1974.98, -0.088), (1975.16, -0.083), (1975.42, -0.074), (1975.68, -0.073),
    (1976.21, -0.074), (1976.56, -0.076), (1976.83, -0.078), (1977.09, -0.071), (1977.44, -0.057),
    (1977.79, -0.054), (1978.23, -0.047),
    (None, None),
    (1981.31, -0.027), (1981.66, -0.030), (1982.18, -0.037), (1982.45, -0.040), (1982.71, -0.053),
    (1983.06, -0.055), (1983.50, -0.065), (1983.85, -0.054), (1984.20, -0.066), (1984.55, -0.061),
    (1984.90, -0.069), (1985.17, -0.078), (1985.43, -0.066), (1985.78, -0.061), (1986.13, -0.053),
    (1986.49, -0.047), (1986.84, -0.046), (1987.19, -0.043), (1987.54, -0.053), (1987.98, -0.057),
    (1988.33, -0.049), (1988.59, -0.041), (1988.77, -0.032), (1989.03, -0.053), (1989.38, -0.050),
    (1989.74, -0.053), (1989.91, -0.047), (1990.09, -0.017), (1990.35, -0.022), (1990.61, -0.013),
    (1990.85, -0.014), (1991.05, -0.008), (1991.23, 0.004), (1991.49, 0.006), (1991.76, 0.016),
    (1992.00, 0.015), (1992.28, 0.016), (1992.50, 0.013), (1992.72, 0.004), (1993.07, 0.001),
    (1993.42, -0.006), (1993.78, 0.001), (1994.13, 0.000), (1994.48, -0.002), (1994.83, 0.004),
    (1995.10, 0.006), (1995.53, 0.016), (1995.88, 0.006), (1996.23, 0.004), (1996.59, -0.006),
    (1996.93, -0.006), (1997.38, 0.004), (1997.73, 0.012), (1998.08, 0.007), (1998.43, 0.004),
    (1998.78, 0.000), (1999.13, -0.002), (1999.39, 0.001), (1999.66, 0.005), (1999.92, 0.008),
    (2000.18, 0.030), (2000.45, 0.031), (2000.76, 0.037), (2000.97, 0.023), (2001.16, 0.020),
    (2001.50, 0.021), (2001.67, 0.018), (2001.99, 0.009), (2002.29, 0.022), (2002.55, 0.024),
    (2003.04, 0.031), (2003.26, 0.012), (2003.61, 0.016), (2003.87, 0.026), (2004.14, 0.024),
    (2004.49, 0.023), (2004.84, 0.017), (2005.11, 0.024), (2005.45, 0.031), (2005.81, 0.041),
    (2006.16, 0.037), (2006.60, 0.039), (2006.95, 0.037), (2007.21, 0.041), (2007.47, 0.037),
    (2007.83, 0.030), (2008.35, 0.021), (2008.70, 0.024), (2009.06, 0.031), (2009.41, 0.035),
    (2009.76, 0.038), (2010.02, 0.030), (2010.28, 0.016), (2010.55, 0.004), (2010.81, 0.000),
    (2011.07, 0.016), (2011.34, 0.037), (2011.66, 0.039), (2011.95, 0.031), (2012.21, 0.016),
    (2012.57, 0.001), (2012.92, 0.000), (2013.18, -0.005), (2013.45, -0.009), (2013.89, -0.010),
    (2014.15, -0.007), (2014.50, -0.003), (2014.76, 0.001), (2015.11, 0.003), (2015.38, 0.006),
    (2015.64, 0.004), (2015.90, 0.000), (2016.17, 0.004), (2016.43, 0.006), (2016.69, 0.010),
    (2016.96, 0.024), (2017.22, 0.051), (2017.48, 0.071), (2017.75, 0.060), (2018.01, 0.050),
    (2018.28, 0.039), (2018.54, 0.034), (2018.80, 0.058), (2019.06, 0.079), (2019.33, 0.088),
    (2019.68, 0.088), (2020.03, 0.089), (2020.29, 0.077), (2020.61, 0.067), (2020.78, 0.048),
    (2020.99, 0.055), (2021.31, 0.055), (2021.52, 0.065), (2021.70, 0.066), (2021.84, 0.088),
    (2022.14, 0.088), (2022.49, 0.085), (2022.75, 0.084), (2023.02, 0.083),
]

sal_trend_years = [1955.0, 2023.05]
sal_trend_vals = [-0.0754, 0.0507]

# tick labels
x_tick_vals = [1960, 1970, 1980, 1990, 2000, 2010, 2020]
x_tick_text = ["1960", "1970", "1980", "1990", "2000", "2010", "2020"]
temp_tick_vals = [-1, -0.5, 0, 0.5, 1]
temp_tick_text = ["-1", "-0.5", "0", "0.5", "1"]
sal_tick_vals = [-0.15, -0.1, -0.05, 0, 0.05, 0.1]
sal_tick_text = ["-0.15", "-0.1", "-0.05", "0", "0.05", "0.1"]

# ---------------- figure ----------------
# the page places the figure 8 px in from the top-left corner, so the
# figure is sized / laid out in screen pixels minus that offset
OFF = 8
W, H = 1463 - OFF, 1180 - OFF
AX = "#262626"
FONT = "Liberation Sans, Arial, Helvetica, sans-serif"

def px_x(p):
    return (p - OFF) / W

def px_y(p):
    return 1 - (p - OFF) / H

def unzip(pairs):
    return [p[0] for p in pairs], [p[1] for p in pairs]

fig = go.Figure()

panels = [
    (temp_obs, temp_mean, temp_trend_years, temp_trend_vals, "x", "y"),
    (sal_obs, sal_mean, sal_trend_years, sal_trend_vals, "x2", "y2"),
]
for obs, mean, ty, tv, xa, ya in panels:
    ox, oy = unzip(obs)
    mx, my = unzip(mean)
    fig.add_trace(go.Scatter(
        x=ox, y=oy, mode="lines+markers", xaxis=xa, yaxis=ya,
        line=dict(color="#0000ff", width=1.2, dash="dot"),
        marker=dict(color="#0000ff", size=4.5), hoverinfo="skip"))
    fig.add_trace(go.Scatter(
        x=ty, y=tv, mode="lines", xaxis=xa, yaxis=ya,
        line=dict(color="#000000", width=4), hoverinfo="skip"))
    fig.add_trace(go.Scatter(
        x=mx, y=my, mode="lines", xaxis=xa, yaxis=ya, connectgaps=False,
        line=dict(color="#ff0000", width=5), hoverinfo="skip"))

tickfont = dict(family=FONT, size=32, color=AX, weight="bold")
axis_common = dict(
    showline=True, linecolor=AX, linewidth=2.5, mirror="ticks",
    ticks="inside", ticklen=14, tickwidth=2.5, tickcolor=AX,
    showgrid=False, zeroline=False, tickfont=tickfont, automargin=False,
)

x_dom = [px_x(167), px_x(1459)]
fig.update_layout(
    width=W, height=H,
    margin=dict(l=0, r=0, t=0, b=0, pad=0, autoexpand=False),
    paper_bgcolor="white", plot_bgcolor="white",
    showlegend=False,
    xaxis=dict(domain=x_dom, range=[1953.95, 2023.12], anchor="y",
               tickvals=x_tick_vals, ticktext=x_tick_text, ticklabelstandoff=4, **axis_common),
    yaxis=dict(domain=[px_y(482), px_y(57)], range=[-1, 1], anchor="x",
               tickvals=temp_tick_vals, ticktext=temp_tick_text, ticklabelstandoff=15, **axis_common),
    xaxis2=dict(domain=x_dom, range=[1954.98, 2023.05], anchor="y2",
                tickvals=x_tick_vals, ticktext=x_tick_text, ticklabelstandoff=4, **axis_common),
    yaxis2=dict(domain=[px_y(1075), px_y(649)], range=[-0.15, 0.1497], anchor="x2",
                tickvals=sal_tick_vals, ticktext=sal_tick_text, ticklabelstandoff=15, **axis_common),
)

# zero reference lines
for xr, yr in (("x domain", "y"), ("x2 domain", "y2")):
    fig.add_shape(type="line", xref=xr, yref=yr, x0=0, x1=1, y0=0, y1=0,
                  line=dict(color="black", width=1.3, dash="18px,9px"), layer="below")

NB = "\u00a0"
title_font = dict(family=FONT, size=41, color="black", weight="bold")
label_font = dict(family=FONT, size=47, color=AX, weight="bold")
annos = [
    dict(text="Hydrostation 'S'" + NB * 3 + "Temperature Anomaly at" + NB * 2 + "300m",
         x=px_x(715), y=px_y(32), font=title_font),
    dict(text="Hydrostation 'S'" + NB * 3 + "Salinity Anomaly at 300m",
         x=px_x(728), y=px_y(618), font=title_font),
    dict(text="[ <sup>o</sup> C]", x=px_x(46), y=px_y(272), textangle=-90, font=label_font),
    dict(text="Salinity", x=px_x(30), y=px_y(873), textangle=-90,
         font=dict(family=FONT, size=42, color=AX, weight="bold")),
    dict(text="Year", x=px_x(804), y=px_y(1153), font=dict(family=FONT, size=41, color=AX, weight="bold")),
]
for a in annos:
    fig.add_annotation(xref="paper", yref="paper", showarrow=False,
                       xanchor="center", yanchor="middle", **a)

fig.write_html("out.html")
